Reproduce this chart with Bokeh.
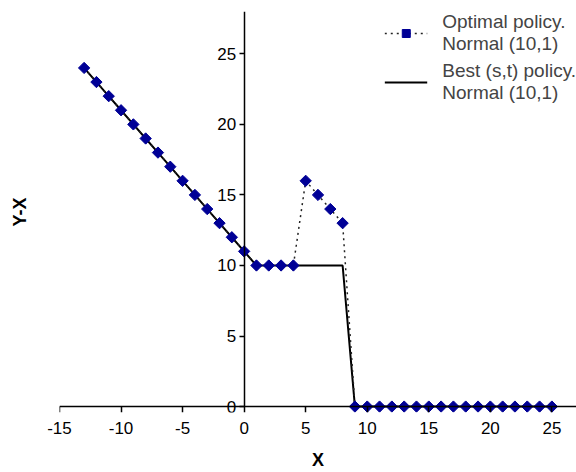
import math
from bokeh.plotting import figure
from bokeh.models import (Legend, LegendItem, Range1d, FixedTicker, LinearAxis)
from bokeh.embed import file_html
from bokeh.resources import INLINE

# ---- data ----
x_vals = list(range(-13, 26))
y_optimal = [24, 23, 22, 21, 20, 19, 18, 17, 16, 15, 14, 13, 12, 11,
             10, 10, 10, 10,
             16, 15, 14, 13,
             0, 0, 0, 0, 0, 0, 0, 0, 0, 0, 0, 0, 0, 0, 0, 0, 0]
y_best_st = [24, 23, 22, 21, 20, 19, 18, 17, 16, 15, 14, 13, 12, 11,
             10, 10, 10, 10, 10, 10, 10, 10,
             0, 0, 0, 0, 0, 0, 0, 0, 0, 0, 0, 0, 0, 0, 0, 0, 0]
x_ticks = [-15, -10, -5, 0, 5, 10, 15, 20, 25]
y_ticks = [0, 5, 10, 15, 20, 25]
label_optimal = "Optimal policy.\nNormal (10,1)"
label_best = "Best (s,t) policy.\nNormal (10,1)"

FONT = "Liberation Sans"
MARK = "#000096"

p = figure(width=576, height=472, output_backend="svg", toolbar_location=None,
           x_range=Range1d(-15, 27.0), y_range=Range1d(-0.42, 28),
           min_border_left=59, min_border_right=0, min_border_top=11,
           min_border_bottom=59)
p.grid.visible = False
p.outline_line_color = None

best = p.line(x_vals, y_best_st, line_color="black", line_width=2)
opt_line = p.line(x_vals, y_optimal, line_color="#222222", line_width=1.5,
                  line_dash="2 4")
opt_pts = p.scatter(x_vals, y_optimal, marker="square", size=8, angle=math.pi / 4,
                    fill_color=MARK, line_color=MARK)

# axes through the origin (lines + ticks)
p.xaxis.fixed_location = 0
p.yaxis.fixed_location = 0
p.xaxis.ticker = FixedTicker(ticks=x_ticks)
p.yaxis.ticker = FixedTicker(ticks=y_ticks)
p.xaxis.major_label_overrides = {t: "" for t in x_ticks}
p.xaxis.bounds = (-15, 27.0)
p.yaxis.bounds = (0, 28)
for ax in (p.xaxis, p.yaxis):
    ax.axis_line_color = "black"
    ax.axis_line_width = 1.5
    ax.major_tick_line_color = "black"
    ax.major_tick_line_width = 1.5
    ax.major_tick_in = 0
    ax.minor_tick_in = 0
    ax.minor_tick_out = 0
    ax.major_label_text_font = FONT
    ax.major_label_text_font_size = "17px"
    ax.major_label_text_color = "black"
p.xaxis.major_tick_out = 6
p.yaxis.major_tick_out = 5
p.yaxis.major_label_standoff = 3

# x tick labels and title below the frame
xlab = LinearAxis(ticker=FixedTicker(ticks=x_ticks), axis_line_color=None,
                  major_tick_line_color=None, minor_tick_line_color=None,
                  major_tick_out=0, major_tick_in=0, minor_tick_out=0, minor_tick_in=0,
                  major_label_standoff=9, major_label_text_font=FONT,
                  major_label_text_font_size="17px", major_label_text_color="black",
                  major_label_overrides={t: str(t) for t in x_ticks},
                  axis_label="X", axis_label_text_font=FONT,
                  axis_label_text_font_style="bold", axis_label_text_font_size="18px",
                  axis_label_text_color="black", axis_label_standoff=13)
p.add_layout(xlab, "below")

# y title at the far left
ylab = LinearAxis(ticker=FixedTicker(ticks=[]), axis_line_color=None,
                  major_tick_line_color=None, minor_tick_line_color=None,
                  major_tick_out=0, major_tick_in=0, minor_tick_out=0, minor_tick_in=0,
                  axis_label="Y-X", axis_label_text_font=FONT,
                  axis_label_text_font_style="bold", axis_label_text_font_size="18px",
                  axis_label_text_color="black", axis_label_standoff=30)
p.add_layout(ylab, "left")

legend = Legend(items=[LegendItem(label=label_optimal, renderers=[opt_line, opt_pts]),
                       LegendItem(label=label_best, renderers=[best])],
                location="top_right", border_line_color=None,
                background_fill_alpha=0, margin=0, padding=1,
                glyph_width=43, label_standoff=15, spacing=5,
                label_text_font=FONT, label_text_font_size="19px",
                label_text_line_height=1.6)
p.add_layout(legend)

open("out.html", "w").write(file_html(p, INLINE))
